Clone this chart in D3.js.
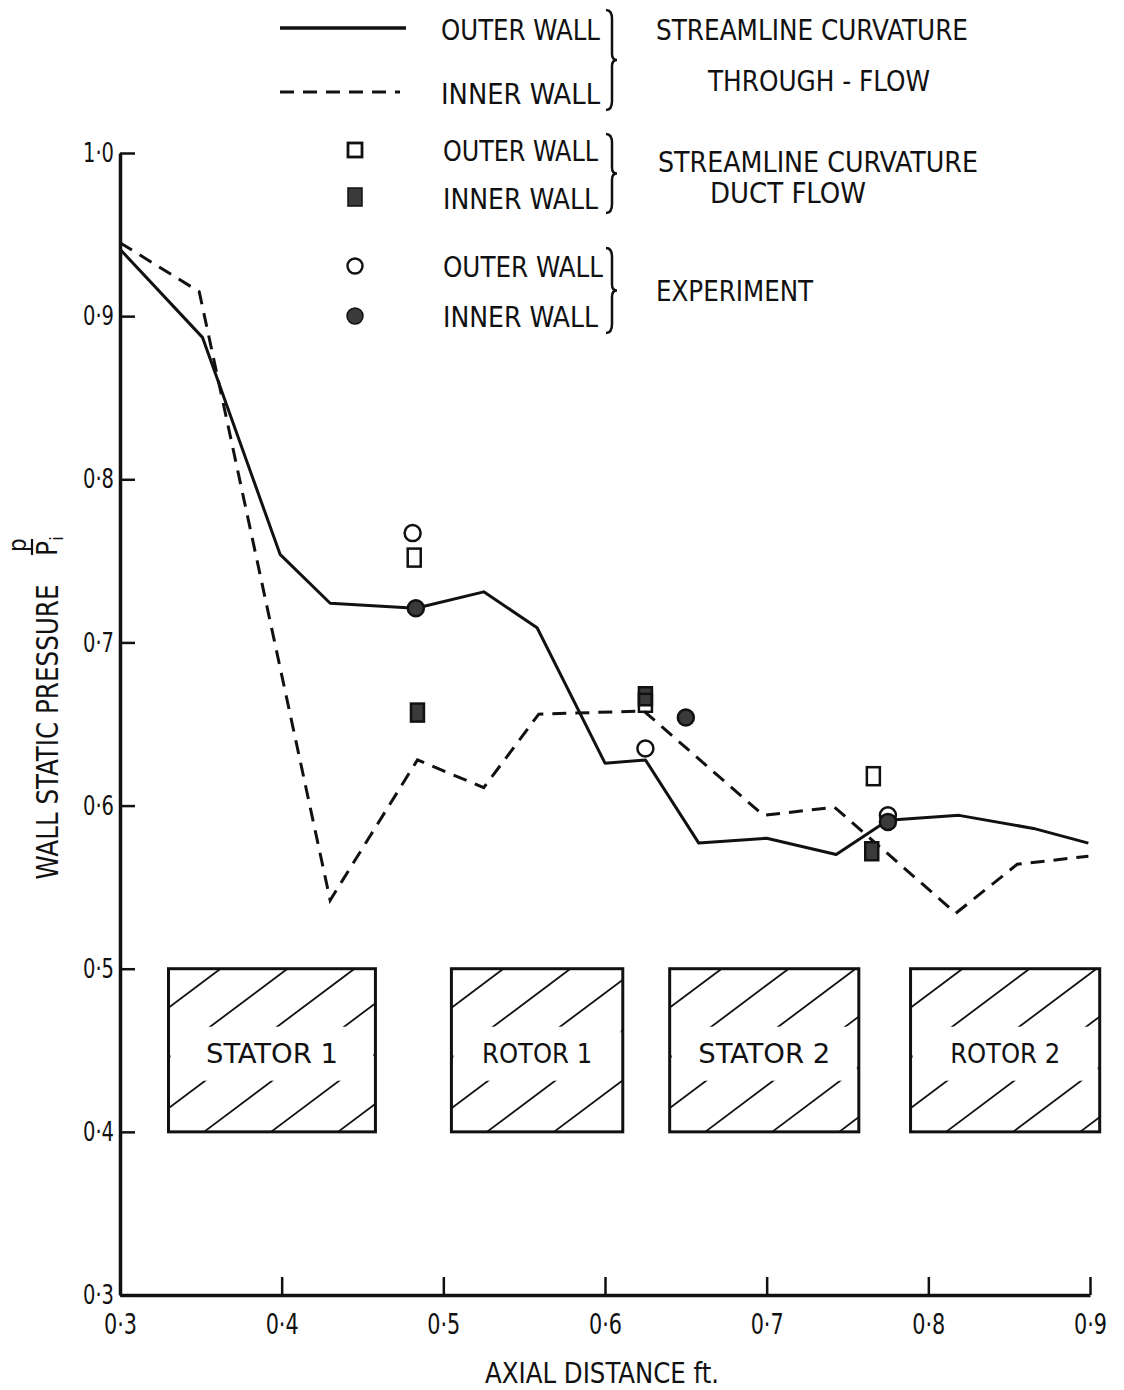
<!DOCTYPE html>
<html>
<head>
<meta charset="utf-8">
<script src="https://cdn.jsdelivr.net/npm/d3@7"></script>
<style>
  body { margin: 0; background: #fff; }
  svg text { font-family: "DejaVu Sans Condensed", "Liberation Sans Narrow", "DejaVu Sans", sans-serif; fill: #111; }
</style>
</head>
<body>
<div id="chart"></div>
<script>
// axis ticks
const xTicks = [0.3, 0.4, 0.5, 0.6, 0.7, 0.8, 0.9];
const yTicks = [0.3, 0.4, 0.5, 0.6, 0.7, 0.8, 0.9, 1.0];

// streamline curvature through-flow, outer wall (solid)
const outerX = [0.300, 0.351, 0.399, 0.430, 0.483, 0.525, 0.558, 0.600, 0.625, 0.658, 0.700, 0.743, 0.775, 0.819, 0.865, 0.899];
const outerY = [0.941, 0.887, 0.754, 0.724, 0.721, 0.731, 0.709, 0.626, 0.628, 0.577, 0.580, 0.570, 0.591, 0.594, 0.586, 0.577];

// streamline curvature through-flow, inner wall (dashed)
const innerX = [0.300, 0.349, 0.430, 0.484, 0.525, 0.559, 0.624, 0.698, 0.742, 0.817, 0.855, 0.899];
const innerY = [0.945, 0.915, 0.542, 0.628, 0.611, 0.656, 0.658, 0.594, 0.599, 0.534, 0.564, 0.569];

// streamline curvature duct flow
const ductOuterX = [0.482, 0.625, 0.766];
const ductOuterY = [0.752, 0.663, 0.618];
const ductInnerX = [0.484, 0.625, 0.765];
const ductInnerY = [0.657, 0.667, 0.572];

// experiment
const expOuterX = [0.481, 0.625, 0.775];
const expOuterY = [0.767, 0.635, 0.594];
const expInnerX = [0.483, 0.650, 0.775];
const expInnerY = [0.721, 0.654, 0.590];

// blade rows
const rowNames = ['STATOR 1', 'ROTOR 1', 'STATOR 2', 'ROTOR 2'];
const rowStart = [0.330, 0.505, 0.640, 0.789];
const rowEnd = [0.458, 0.611, 0.757, 0.906];
const rowLow = 0.4;
const rowHigh = 0.5;

const width = 1124;
const height = 1390;
const ink = '#111';
const grey = '#3a3a3a';

const svg = d3.select('#chart').append('svg')
    .attr('width', width)
    .attr('height', height);

const x = d3.scaleLinear().domain([0.3, 0.9]).range([120, 1090]);
const y = d3.scaleLinear().domain([0.3, 1.0]).range([1295, 153]);

function fit(sel, len) {
  sel.attr('textLength', len).attr('lengthAdjust', 'spacingAndGlyphs');
}

// blade row boxes with hatching
const defs = svg.append('defs');
rowNames.forEach((name, i) => {
  const x0 = x(rowStart[i]), x1 = x(rowEnd[i]);
  const y0 = y(rowHigh), y1 = y(rowLow);
  const h = y1 - y0;
  const id = 'clip' + i;
  defs.append('clipPath').attr('id', id)
    .append('rect').attr('x', x0).attr('y', y0).attr('width', x1 - x0).attr('height', h);
  const g = svg.append('g');
  const hatch = g.append('g').attr('clip-path', `url(#${id})`);
  const slope = 0.75;
  const run = h / slope;
  for (let t = x0 + 52 - 5 * 67; t < x1 + run; t += 67) {
    hatch.append('line')
      .attr('x1', t).attr('y1', y0)
      .attr('x2', t - run).attr('y2', y1)
      .attr('stroke', ink).attr('stroke-width', 1.8);
  }
  // blank band for the label
  g.append('rect')
    .attr('x', x0 + 2).attr('y', y0 + 58)
    .attr('width', x1 - x0 - 4).attr('height', 54)
    .attr('fill', '#fff');
  g.append('rect')
    .attr('x', x0).attr('y', y0)
    .attr('width', x1 - x0).attr('height', h)
    .attr('fill', 'none').attr('stroke', ink).attr('stroke-width', 3);
  g.append('text')
    .attr('x', (x0 + x1) / 2)
    .attr('y', y0 + 94)
    .attr('text-anchor', 'middle')
    .style('font-size', '27px')
    .text(name)
    .call(fit, name.startsWith('STATOR') ? 132 : 110);
});

// curves
const line = d3.line().x(d => x(d[0])).y(d => y(d[1]));
svg.append('path')
  .datum(d3.zip(outerX, outerY))
  .attr('d', line)
  .attr('fill', 'none').attr('stroke', ink).attr('stroke-width', 3)
  .attr('stroke-linejoin', 'round');
svg.append('path')
  .datum(d3.zip(innerX, innerY))
  .attr('d', line)
  .attr('fill', 'none').attr('stroke', ink).attr('stroke-width', 3)
  .attr('stroke-dasharray', '14 9');

// markers
function squares(xs, ys, filled) {
  svg.append('g').selectAll('rect')
    .data(d3.zip(xs, ys))
    .join('rect')
      .attr('x', d => x(d[0]) - 6.5)
      .attr('y', d => y(d[1]) - 9)
      .attr('width', 13).attr('height', 18)
      .attr('fill', filled ? grey : 'none')
      .attr('stroke', ink).attr('stroke-width', 2.5);
}
function circles(xs, ys, filled) {
  svg.append('g').selectAll('circle')
    .data(d3.zip(xs, ys))
    .join('circle')
      .attr('cx', d => x(d[0]))
      .attr('cy', d => y(d[1]))
      .attr('r', 8)
      .attr('fill', filled ? grey : '#fff')
      .attr('stroke', ink).attr('stroke-width', 2.5);
}
squares(ductInnerX, ductInnerY, true);
squares(ductOuterX, ductOuterY, false);
circles(expOuterX, expOuterY, false);
circles(expInnerX, expInnerY, true);

// axes
const tickFmt = d => d3.format('.1f')(d).replace('.', '·');
const xAxis = svg.append('g')
    .attr('transform', `translate(0,${y(0.3)})`)
    .call(d3.axisBottom(x).tickValues(xTicks).tickSize(-18).tickSizeOuter(0).tickPadding(18)
      .tickFormat(tickFmt));
xAxis.select('.domain').attr('stroke', ink).attr('stroke-width', 3.5);
xAxis.selectAll('.tick line').attr('stroke', ink).attr('stroke-width', 2.5);
xAxis.selectAll('.tick text')
    .style('font-size', '29px')
    .attr('fill', ink)
    .call(fit, 33);

const yAxis = svg.append('g')
    .attr('transform', `translate(${x(0.3)},0)`)
    .call(d3.axisLeft(y).tickValues(yTicks).tickSize(-15).tickSizeOuter(0).tickPadding(6)
      .tickFormat(tickFmt));
yAxis.select('.domain').attr('stroke', ink).attr('stroke-width', 3.5);
yAxis.selectAll('.tick line').attr('stroke', ink).attr('stroke-width', 2.5);
yAxis.selectAll('.tick text')
    .style('font-size', '27px')
    .attr('fill', ink)
    .call(fit, 31);

// axis titles
svg.append('text')
  .attr('x', 602).attr('y', 1383)
  .attr('text-anchor', 'middle')
  .style('font-size', '28px')
  .text('AXIAL DISTANCE ft.')
  .call(fit, 234);

svg.append('text')
  .attr('transform', 'translate(58,732) rotate(-90)')
  .attr('text-anchor', 'middle')
  .style('font-size', '30px')
  .text('WALL STATIC PRESSURE')
  .call(fit, 295);

const frac = svg.append('g').attr('transform', 'translate(57,556) rotate(-90)');
frac.append('text').attr('x', 0).attr('y', 0)
  .style('font-size', '28px')
  .text('P')
  .append('tspan').attr('dy', 6).style('font-size', '18px').text('i');
frac.append('line')
  .attr('x1', 1).attr('x2', 17).attr('y1', -25).attr('y2', -25)
  .attr('stroke', ink).attr('stroke-width', 2.2);
frac.append('text').attr('x', 4).attr('y', -31)
  .style('font-size', '24px')
  .text('p');

// legend
const legend = svg.append('g');
function brace(xp, y0, y1) {
  const m = (y0 + y1) / 2;
  return `M${xp - 6},${y0} Q${xp},${y0} ${xp},${y0 + 9} L${xp},${m - 6} Q${xp},${m} ${xp + 5},${m} ` +
         `Q${xp},${m} ${xp},${m + 6} L${xp},${y1 - 9} Q${xp},${y1} ${xp - 6},${y1}`;
}
function label(tx, ty, str, len) {
  legend.append('text')
    .attr('x', tx).attr('y', ty)
    .style('font-size', '29px')
    .text(str)
    .call(fit, len);
}

legend.append('line').attr('x1', 280).attr('x2', 406).attr('y1', 28).attr('y2', 28)
  .attr('stroke', ink).attr('stroke-width', 3.5);
legend.append('line').attr('x1', 280).attr('x2', 400).attr('y1', 92).attr('y2', 92)
  .attr('stroke', ink).attr('stroke-width', 3).attr('stroke-dasharray', '14 9');
legend.append('rect').attr('x', 348).attr('y', 143).attr('width', 14).attr('height', 14)
  .attr('fill', 'none').attr('stroke', ink).attr('stroke-width', 2.8);
legend.append('rect').attr('x', 348).attr('y', 188).attr('width', 14).attr('height', 18)
  .attr('fill', grey).attr('stroke', ink).attr('stroke-width', 1.5);
legend.append('circle').attr('cx', 355).attr('cy', 266).attr('r', 7.5)
  .attr('fill', '#fff').attr('stroke', ink).attr('stroke-width', 2.4);
legend.append('circle').attr('cx', 355).attr('cy', 316).attr('r', 8)
  .attr('fill', grey).attr('stroke', ink).attr('stroke-width', 1.5);

label(441, 40, 'OUTER WALL', 159);
label(441, 104, 'INNER WALL', 159);
label(443, 161, 'OUTER WALL', 155);
label(443, 209, 'INNER WALL', 155);
label(443, 277, 'OUTER WALL', 160);
label(443, 327, 'INNER WALL', 155);

[[10, 110], [134, 213], [248, 333]].forEach(b => {
  legend.append('path').attr('d', brace(612, b[0], b[1]))
    .attr('fill', 'none').attr('stroke', ink).attr('stroke-width', 2.5);
});

label(656, 40, 'STREAMLINE CURVATURE', 312);
label(708, 91, 'THROUGH - FLOW', 222);
label(658, 172, 'STREAMLINE CURVATURE', 320);
label(710, 203, 'DUCT  FLOW', 156);
label(656, 301, 'EXPERIMENT', 157);
</script>
</body>
</html>
